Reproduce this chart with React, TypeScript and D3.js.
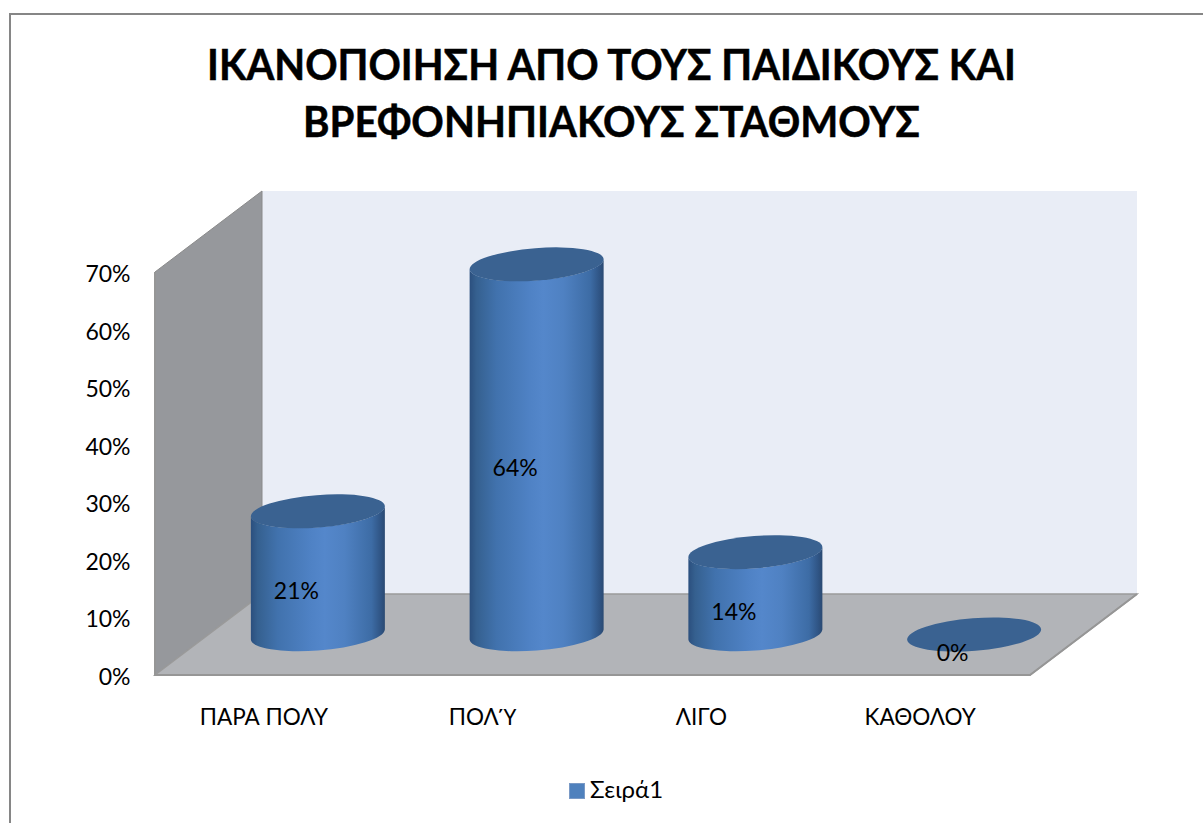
import React from "react";
import * as d3 from "d3";

const categories = ["ΠΑΡΑ ΠΟΛΥ", "ΠΟΛ\u038E", "ΛΙΓΟ", "ΚΑΘΟΛΟΥ"];
const values = [0.214, 0.643, 0.143, 0];
const yTicks = [0, 0.1, 0.2, 0.3, 0.4, 0.5, 0.6, 0.7];
const titleLines = ["ΙΚΑΝΟΠΟΙΗΣΗ ΑΠΟ ΤΟΥΣ ΠΑΙΔΙΚΟΥΣ ΚΑΙ", "ΒΡΕΦΟΝΗΠΙΑΚΟΥΣ ΣΤΑΘΜΟΥΣ"];
const titleWidths = [809, 617];
const seriesName = "Σειρά1";

const FONT = "Lato, 'Noto Sans', sans-serif";
const depthX = 107;
const depthY = 81;
const x = d3.scaleBand<string>().domain(categories).range([155, 1030]);
const y = d3.scaleLinear().domain([0, 0.7]).range([675, 272]);
const fmt = d3.format(".0%");
const RX = 67.2;
const RY = 16.2;
const TILT = -4.5;
const EX = 67;
const EY = 5;

// Lato draws capital upsilon with tonos without its accent, so that one letter comes from Noto Sans.
function withTonos(label: string) {
  return label.split(/(\u038E)/).map((part, i) =>
    part === "\u038E" ? <tspan key={i} fontFamily="'Noto Sans'">{part}</tspan> : part
  );
}

export default function App() {
  const wall = d3.line()([
    [155, y(0)], [155, y(0.7)], [155 + depthX, y(0.7) - depthY], [155 + depthX, y(0) - depthY],
  ]) + "Z";
  const floor = d3.line()([
    [155, y(0)], [155 + depthX, y(0) - depthY], [1030 + depthX, y(0) - depthY], [1030, y(0)],
  ]) + "Z";
  return (
    <svg width={1203} height={823} style={{ position: "absolute", left: 0, top: 0, background: "#fff" }} fontFamily={FONT}>
      <defs>
        <linearGradient id="cyl" x1="0" x2="1" y1="0" y2="0">
          <stop offset="0" stopColor="#2b4f7e" />
          <stop offset="0.05" stopColor="#35608f" />
          <stop offset="0.2" stopColor="#4172ad" />
          <stop offset="0.45" stopColor="#4f82c5" />
          <stop offset="0.55" stopColor="#5487cb" />
          <stop offset="0.7" stopColor="#4f81c2" />
          <stop offset="0.9" stopColor="#3d6ca5" />
          <stop offset="0.97" stopColor="#2f5484" />
          <stop offset="1" stopColor="#2b4a72" />
        </linearGradient>
      </defs>
      <rect x={10} y={14} width={1300} height={900} fill="#fff" stroke="#868686" strokeWidth={2} />
      {titleLines.map((t, i) => (
        <text key={t} x={611.5} y={80 + i * 57} textAnchor="middle" fontWeight={700} fontSize={42} fill="#000"
          textLength={titleWidths[i]} lengthAdjust="spacingAndGlyphs" stroke="#000" strokeWidth={0.5}>{t}</text>
      ))}
      <rect x={155 + depthX} y={y(0.7) - depthY} width={875} height={403} fill="#e9edf6" />
      <path d={wall} fill="#96989c" stroke="#8a8a8a" strokeWidth={1} />
      <path d={floor} fill="#b2b4b8" />
      <path d={`M155,${y(0)}L${155 + depthX},${y(0) - depthY}H${1030 + depthX}L1030,${y(0)}Z`} fill="none" stroke="#9a9a9a" strokeWidth={1.5} />
      <path d={`M155,${y(0.7)}V${y(0)}H1030L${1030 + depthX},${y(0) - depthY}`} fill="none" stroke="#969696" strokeWidth={2} />
      {yTicks.map((t) => (
        <text key={t} x={130.5} y={y(t) + 2} dy="0.35em" textAnchor="end" fontSize={23} fill="#000">{fmt(t)}</text>
      ))}
      {categories.map((c, i) => {
        const band = x(c)! + x.bandwidth() / 2;
        const cx = band + depthX / 2;
        const by = y(0) - depthY / 2;
        const ty = y(values[i]) - depthY / 2;
        const side = `M${cx - EX},${ty + EY}L${cx - EX},${by + EY}A${RX},${RY},${TILT},0,0,${cx + EX},${by - EY}L${cx + EX},${ty - EY}A${RX},${RY},${TILT},0,1,${cx - EX},${ty + EY}Z`;
        return (
          <g key={c}>
            {values[i] > 0 && <path d={side} fill="url(#cyl)" />}
            <ellipse cx={0} cy={0} rx={RX} ry={RY} fill="#3a6291" transform={`translate(${cx},${ty}) rotate(${TILT})`} />
          </g>
        );
      })}
      {categories.map((c, i) => {
        const band = x(c)! + x.bandwidth() / 2;
        const cx = band + depthX / 2;
        const by = y(0) - depthY / 2;
        const ty = y(values[i]) - depthY / 2;
        return (
          <g key={c}>
            <text x={cx - 21.5} y={(by + ty) / 2 + 18.5} dy="0.35em" textAnchor="middle" fontSize={23} fill="#000">{fmt(values[i])}</text>
            <text x={band - 0.5} y={717} dy="0.35em" textAnchor="middle" fontSize={22.5} fill="#000">{withTonos(c)}</text>
          </g>
        );
      })}
      <rect x={569.5} y={783.5} width={15} height={15} fill="#4f81bd" stroke="#7a9ac6" />
      <text x={590} y={790} dy="0.35em" fontSize={24} fill="#000">{seriesName}</text>
    </svg>
  );
}
